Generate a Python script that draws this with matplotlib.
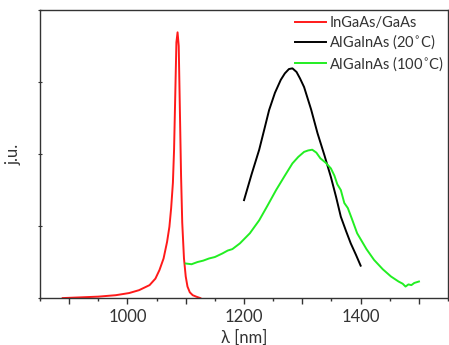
import matplotlib
matplotlib.use("Agg")
import matplotlib.pyplot as plt
from matplotlib.ticker import MultipleLocator, FuncFormatter, NullFormatter

plt.rcParams['font.family'] = ['Lato', 'DejaVu Sans']

# InGaAs/GaAs (red)
red_x = [889, 920, 950, 980, 1003, 1020, 1038, 1048, 1055, 1062, 1068, 1072, 1075, 1078, 1080, 1082, 1084, 1086, 1088, 1090, 1092, 1094, 1097, 1100, 1103, 1107, 1112, 1118, 1125]
red_y = [0.0, 0.01, 0.02, 0.04, 0.07, 0.11, 0.18, 0.27, 0.39, 0.55, 0.78, 0.99, 1.25, 1.6, 2.06, 2.8, 3.55, 3.69, 3.5, 2.6, 1.7, 1.05, 0.55, 0.3, 0.16, 0.08, 0.04, 0.02, 0.0]

# AlGaInAs 20C (black)
blk_x = [1200, 1213, 1226, 1235, 1243, 1253, 1263, 1270, 1277, 1283, 1290, 1296, 1303, 1315, 1326, 1338, 1349, 1358, 1366, 1375, 1383, 1392, 1400]
blk_y = [1.36, 1.72, 2.06, 2.35, 2.61, 2.85, 3.03, 3.12, 3.18, 3.19, 3.14, 3.05, 2.93, 2.62, 2.29, 1.98, 1.68, 1.4, 1.13, 0.93, 0.76, 0.6, 0.45]

# AlGaInAs 100C (green)
grn_x = [1100, 1110, 1120, 1130, 1140, 1150, 1163, 1172, 1180, 1193, 1210, 1226, 1240, 1255, 1270, 1283, 1293, 1303, 1310, 1317, 1324, 1331, 1340, 1349, 1355, 1360, 1366, 1372, 1378, 1385, 1394, 1410, 1423, 1438, 1452, 1465, 1472, 1477, 1482, 1487, 1492, 1500]
grn_y = [0.48, 0.47, 0.5, 0.52, 0.55, 0.57, 0.62, 0.66, 0.68, 0.76, 0.9, 1.08, 1.28, 1.5, 1.7, 1.87, 1.96, 2.03, 2.05, 2.06, 2.02, 1.94, 1.88, 1.8, 1.7, 1.58, 1.5, 1.32, 1.25, 1.1, 0.9, 0.68, 0.53, 0.4, 0.3, 0.23, 0.2, 0.16, 0.19, 0.18, 0.21, 0.23]

fig = plt.figure(figsize=(4.49, 3.45), dpi=100)
ax = fig.add_axes([0.089, 0.136, 0.909, 0.835])

ax.plot(red_x, red_y, color='#ff1a1a', lw=1.4, label='InGaAs/GaAs')
ax.plot(blk_x, blk_y, color='black', lw=1.4, label='AlGaInAs (20$^{\\circ}$C)')
ax.plot(grn_x, grn_y, color='#22ee22', lw=1.4, label='AlGaInAs (100$^{\\circ}$C)')

ax.set_xlim(850, 1550)
ax.set_ylim(0, 4)
ax.xaxis.set_major_locator(MultipleLocator(100))
ax.xaxis.set_minor_locator(MultipleLocator(50))
ax.xaxis.set_major_formatter(FuncFormatter(lambda v, p: '%d' % v if int(round(v)) % 200 == 0 else ''))
ax.yaxis.set_major_locator(MultipleLocator(1))
ax.yaxis.set_major_formatter(NullFormatter())
ax.tick_params(axis='x', which='major', direction='out', length=4, width=1.0, labelsize=12,
               colors='#333333', labelcolor='#333333', pad=4)
ax.tick_params(axis='x', which='minor', direction='out', length=2, width=1.0, colors='#333333')
ax.tick_params(axis='y', direction='inout', length=3, colors='#333333')
for s in ax.spines.values():
    s.set_color('#333333')
    s.set_linewidth(1.0)

ax.set_xlabel('λ [nm]', fontsize=12, color='#333333', labelpad=3)
ax.set_ylabel('j.u.', fontsize=12, color='#333333', labelpad=8)

ax.legend(loc='upper right', frameon=False, fontsize=10.5, handlelength=2.1,
          handletextpad=0.25, labelspacing=0.2, borderaxespad=0.0,
          bbox_to_anchor=(1.005, 1.0), labelcolor='#333333')

fig.savefig('out.png', dpi=100)
